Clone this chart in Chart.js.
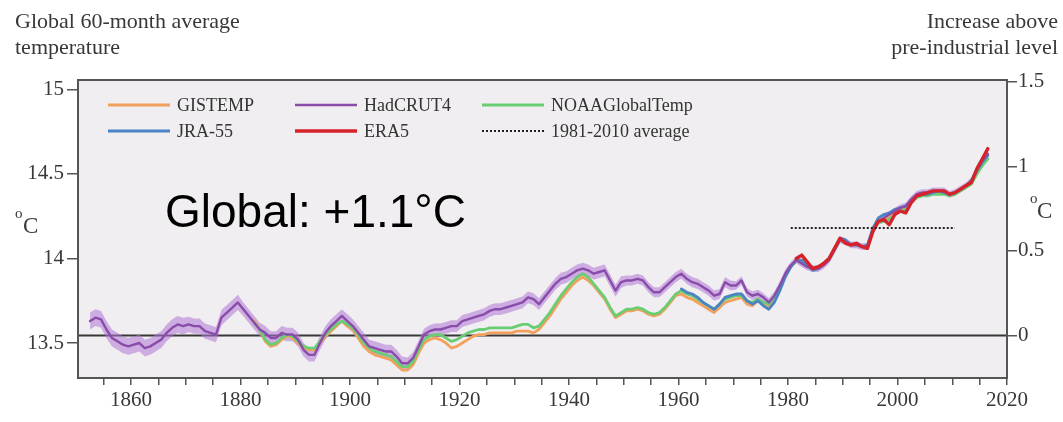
<!DOCTYPE html>
<html>
<head>
<meta charset="utf-8">
<script src="https://cdn.jsdelivr.net/npm/chart.js@4.4.1/dist/chart.umd.min.js"></script>
<style>
  html, body { margin: 0; padding: 0; background: #ffffff; }
  #wrap { position: relative; width: 1063px; height: 422px; }
</style>
</head>
<body>
<div id="wrap"><canvas id="chart" width="1063" height="422"></canvas></div>
<script>
// Centre years of the 60-month running means
const years = [
  1852.5, 1853.5, 1854.5, 1855.5, 1856.5, 1857.5, 1858.5, 1859.5,
  1860.5, 1861.5, 1862.5, 1863.5, 1864.5, 1865.5, 1866.5, 1867.5, 1868.5, 1869.5,
  1870.5, 1871.5, 1872.5, 1873.5, 1874.5, 1875.5, 1876.5, 1877.5, 1878.5, 1879.5,
  1880.5, 1881.5, 1882.5, 1883.5, 1884.5, 1885.5, 1886.5, 1887.5, 1888.5, 1889.5,
  1890.5, 1891.5, 1892.5, 1893.5, 1894.5, 1895.5, 1896.5, 1897.5, 1898.5, 1899.5,
  1900.5, 1901.5, 1902.5, 1903.5, 1904.5, 1905.5, 1906.5, 1907.5, 1908.5, 1909.5,
  1910.5, 1911.5, 1912.5, 1913.5, 1914.5, 1915.5, 1916.5, 1917.5, 1918.5, 1919.5,
  1920.5, 1921.5, 1922.5, 1923.5, 1924.5, 1925.5, 1926.5, 1927.5, 1928.5, 1929.5,
  1930.5, 1931.5, 1932.5, 1933.5, 1934.5, 1935.5, 1936.5, 1937.5, 1938.5, 1939.5,
  1940.5, 1941.5, 1942.5, 1943.5, 1944.5, 1945.5, 1946.5, 1947.5, 1948.5, 1949.5,
  1950.5, 1951.5, 1952.5, 1953.5, 1954.5, 1955.5, 1956.5, 1957.5, 1958.5, 1959.5,
  1960.5, 1961.5, 1962.5, 1963.5, 1964.5, 1965.5, 1966.5, 1967.5, 1968.5, 1969.5,
  1970.5, 1971.5, 1972.5, 1973.5, 1974.5, 1975.5, 1976.5, 1977.5, 1978.5, 1979.5,
  1980.5, 1981.5, 1982.5, 1983.5, 1984.5, 1985.5, 1986.5, 1987.5, 1988.5, 1989.5,
  1990.5, 1991.5, 1992.5, 1993.5, 1994.5, 1995.5, 1996.5, 1997.5, 1998.5, 1999.5,
  2000.5, 2001.5, 2002.5, 2003.5, 2004.5, 2005.5, 2006.5, 2007.5, 2008.5, 2009.5,
  2010.5, 2011.5, 2012.5, 2013.5, 2014.5, 2015.5, 2016.5
];

// HadCRUT4, °C (1852.5 – 2016.5)
const hadcrut4 = [
  13.63, 13.65, 13.64, 13.58, 13.53, 13.51, 13.49, 13.48,
  13.49, 13.50, 13.47, 13.48, 13.50, 13.52, 13.56, 13.59, 13.61, 13.60,
  13.61, 13.60, 13.60, 13.57, 13.56, 13.55, 13.65, 13.68, 13.71, 13.74,
  13.70, 13.66, 13.62, 13.58, 13.56, 13.53, 13.53, 13.56, 13.55, 13.55,
  13.52, 13.46, 13.43, 13.43, 13.50, 13.56, 13.60, 13.63, 13.66, 13.63,
  13.60, 13.56, 13.52, 13.48, 13.47, 13.46, 13.45, 13.45, 13.42, 13.38,
  13.38, 13.41, 13.48, 13.55, 13.57, 13.58, 13.58, 13.59, 13.60, 13.60,
  13.63, 13.64, 13.65, 13.66, 13.67, 13.69, 13.70, 13.70, 13.71, 13.72,
  13.73, 13.74, 13.77, 13.76, 13.73, 13.77, 13.81, 13.85, 13.88, 13.89,
  13.91, 13.93, 13.94, 13.93, 13.91, 13.92, 13.93, 13.87, 13.81, 13.86,
  13.87, 13.87, 13.88, 13.87, 13.83, 13.80, 13.80, 13.83, 13.86, 13.89,
  13.91, 13.88, 13.86, 13.85, 13.83, 13.81, 13.78, 13.79, 13.86, 13.84,
  13.84, 13.87, 13.80, 13.78, 13.79, 13.77, 13.74, 13.78, 13.84, 13.91,
  13.96, 13.99, 13.97, 13.95, 13.94, 13.94, 13.96, 13.99, 14.05, 14.11,
  14.10, 14.08, 14.08, 14.07, 14.07, 14.17, 14.22, 14.24, 14.26, 14.28,
  14.30, 14.31, 14.35, 14.38, 14.39, 14.39, 14.40, 14.40, 14.40, 14.38,
  14.39, 14.41, 14.43, 14.46, 14.53, 14.58, 14.62
];

// HadCRUT4 uncertainty half-width by decade, °C
const spreadDecades = [1850, 1860, 1870, 1880, 1890, 1900, 1910, 1920, 1930, 1940, 1950, 1960, 1970, 1980, 1990, 2000, 2010];
const spreadValues  = [0.05, 0.05, 0.045, 0.04, 0.04, 0.04, 0.035, 0.035, 0.035, 0.035, 0.03, 0.03, 0.025, 0.02, 0.02, 0.02, 0.02];

// GISTEMP, °C (1882.5 – 2016.5)
const gistemp = [
  13.63, 13.58, 13.51, 13.48, 13.49, 13.52, 13.54, 13.53,
  13.50, 13.47, 13.46, 13.46, 13.50, 13.54, 13.57, 13.60, 13.63, 13.60,
  13.58, 13.53, 13.48, 13.45, 13.43, 13.42, 13.41, 13.40, 13.37, 13.34,
  13.34, 13.37, 13.44, 13.50, 13.52, 13.53, 13.52, 13.50, 13.47, 13.48,
  13.50, 13.52, 13.54, 13.55, 13.55, 13.56, 13.56, 13.56, 13.56, 13.56,
  13.57, 13.57, 13.57, 13.56, 13.58, 13.62, 13.66, 13.71, 13.76, 13.80,
  13.84, 13.87, 13.89, 13.87, 13.84, 13.80, 13.76, 13.70, 13.65, 13.67,
  13.69, 13.69, 13.70, 13.69, 13.67, 13.66, 13.67, 13.70, 13.74, 13.78,
  13.79, 13.77, 13.76, 13.74, 13.72, 13.70, 13.68, 13.71, 13.74, 13.75,
  13.76, 13.77, 13.73, 13.72, 13.75, 13.73, 13.72, 13.76, 13.82, 13.90,
  13.95, 13.99, 13.99, 13.96, 13.94, 13.95, 13.97, 14.00, 14.06, 14.12,
  14.10, 14.08, 14.08, 14.07, 14.07, 14.17, 14.22, 14.23, 14.24, 14.27,
  14.29, 14.30, 14.34, 14.37, 14.38, 14.38, 14.39, 14.39, 14.39, 14.38,
  14.39, 14.41, 14.43, 14.46, 14.52, 14.57, 14.61
];

// NOAAGlobalTemp, °C (1882.5 – 2016.5)
const noaaGlobalTemp = [
  13.62, 13.58, 13.52, 13.49, 13.50, 13.53, 13.55, 13.54,
  13.51, 13.48, 13.47, 13.47, 13.51, 13.55, 13.58, 13.61, 13.63, 13.61,
  13.59, 13.55, 13.50, 13.47, 13.45, 13.44, 13.43, 13.42, 13.39, 13.36,
  13.36, 13.39, 13.46, 13.52, 13.54, 13.55, 13.55, 13.53, 13.51, 13.52,
  13.54, 13.56, 13.57, 13.58, 13.58, 13.59, 13.59, 13.59, 13.59, 13.59,
  13.60, 13.61, 13.61, 13.59, 13.60, 13.64, 13.68, 13.73, 13.78, 13.82,
  13.86, 13.89, 13.91, 13.89, 13.85, 13.81, 13.77, 13.71, 13.66, 13.68,
  13.70, 13.70, 13.71, 13.70, 13.68, 13.67, 13.68, 13.71, 13.75, 13.79,
  13.81, 13.79, 13.78, 13.76, 13.74, 13.72, 13.70, 13.73, 13.76, 13.77,
  13.78, 13.78, 13.75, 13.74, 13.76, 13.74, 13.73, 13.77, 13.83, 13.90,
  13.95, 13.99, 13.98, 13.96, 13.94, 13.95, 13.97, 14.00, 14.05, 14.11,
  14.10, 14.08, 14.08, 14.07, 14.07, 14.16, 14.21, 14.22, 14.23, 14.26,
  14.28, 14.29, 14.33, 14.36, 14.37, 14.37, 14.38, 14.38, 14.38, 14.37,
  14.38, 14.40, 14.42, 14.44, 14.50, 14.55, 14.59
];

// JRA-55, °C (1960.5 – 2016.5)
const jra55 = [
  13.82, 13.80, 13.79, 13.77, 13.74, 13.72, 13.70, 13.73, 13.77, 13.78,
  13.79, 13.79, 13.75, 13.73, 13.75, 13.72, 13.70, 13.74, 13.81, 13.89,
  13.95, 13.99, 13.99, 13.96, 13.93, 13.94, 13.97, 14.00, 14.06, 14.12,
  14.11, 14.08, 14.08, 14.07, 14.08, 14.18, 14.24, 14.26, 14.27, 14.29,
  14.30, 14.31, 14.34, 14.37, 14.38, 14.38, 14.39, 14.40, 14.39, 14.38,
  14.39, 14.41, 14.43, 14.46, 14.52, 14.57, 14.61
];

// ERA5, °C (1981.5 – 2016.5)
const era5 = [
  14.00, 14.02, 13.98, 13.94, 13.95, 13.97, 14.00, 14.06, 14.12,
  14.09, 14.08, 14.09, 14.07, 14.06, 14.16, 14.22, 14.23, 14.20, 14.26,
  14.28, 14.27, 14.33, 14.37, 14.38, 14.39, 14.40, 14.40, 14.40, 14.38,
  14.39, 14.41, 14.43, 14.45, 14.53, 14.59, 14.65
];

// 1981–2010 average
const avgYears  = [1980.5, 2010.5];
const avgValues = [14.18, 14.18];

// Pre-industrial reference level, °C
const PRE_INDUSTRIAL = 13.545;

// Axis ticks
const leftTicks  = [13.5, 14, 14.5, 15];
const rightTicks = [0, 0.5, 1, 1.5];
const xTickYears = [1855, 1860, 1865, 1870, 1875, 1880, 1885, 1890, 1895, 1900, 1905, 1910, 1915,
                    1920, 1925, 1930, 1935, 1940, 1945, 1950, 1955, 1960, 1965, 1970, 1975, 1980,
                    1985, 1990, 1995, 2000, 2005, 2010, 2015, 2020];
const xTickLabels = [1860, 1880, 1900, 1920, 1940, 1960, 1980, 2000, 2020];

const Y_MIN = 13.293, Y_MAX = 15.056;
const X_MIN = 1850.3, X_MAX = 2020;

const gistempYears = years.slice(years.indexOf(1882.5));
const jraYears     = years.slice(years.indexOf(1960.5));
const era5Years    = years.slice(years.indexOf(1981.5));

function pts(xs, ys) { return xs.map((x, i) => ({ x: x, y: ys[i] })); }
function spreadFor(year) {
  let s = spreadValues[0];
  for (let i = 0; i < spreadDecades.length; i++) if (year >= spreadDecades[i]) s = spreadValues[i];
  return s;
}
const hadUpper = hadcrut4.map((v, i) => v + spreadFor(years[i]));
const hadLower = hadcrut4.map((v, i) => v - spreadFor(years[i]));

const SERIF = "'Liberation Serif', 'Times New Roman', serif";
const TEXT = '#383838';

const lineBase = { pointRadius: 0, pointHitRadius: 0, tension: 0, fill: false,
                   borderJoinStyle: 'round', borderCapStyle: 'round' };

const datasets = [
  Object.assign({}, lineBase, { label: 'HadCRUT4 band top', data: pts(years, hadUpper),
    borderWidth: 0, borderColor: 'rgba(0,0,0,0)', order: 10 }),
  Object.assign({}, lineBase, { label: 'HadCRUT4 band bottom', data: pts(years, hadLower),
    borderWidth: 0, borderColor: 'rgba(0,0,0,0)', fill: '-1',
    backgroundColor: 'rgba(174,118,214,0.55)', order: 9 }),
  Object.assign({}, lineBase, { label: 'GISTEMP', data: pts(gistempYears, gistemp),
    borderColor: '#f2a05c', borderWidth: 2.8, order: 5 }),
  Object.assign({}, lineBase, { label: 'NOAAGlobalTemp', data: pts(gistempYears, noaaGlobalTemp),
    borderColor: '#6acd74', borderWidth: 2.8, order: 4 }),
  Object.assign({}, lineBase, { label: 'JRA-55', data: pts(jraYears, jra55),
    borderColor: '#4a84c4', borderWidth: 2.8, order: 3 }),
  Object.assign({}, lineBase, { label: 'HadCRUT4', data: pts(years, hadcrut4),
    borderColor: '#8a4cab', borderWidth: 2.4, order: 2 }),
  Object.assign({}, lineBase, { label: 'ERA5', data: pts(era5Years, era5),
    borderColor: '#d6222b', borderWidth: 3.4, order: 1 }),
  Object.assign({}, lineBase, { label: '1981-2010 average', data: pts(avgYears, avgValues),
    borderColor: '#222222', borderWidth: 2, borderDash: [2, 2], borderCapStyle: 'butt', order: 0 })
];

// Plot background, pre-industrial line, frame, legend and titles
const decorations = {
  id: 'decorations',
  beforeDraw(chart) {
    const a = chart.chartArea, ctx = chart.ctx;
    ctx.save();
    ctx.fillStyle = '#f0eef0';
    ctx.fillRect(a.left, a.top, a.right - a.left, a.bottom - a.top);
    ctx.restore();
  },
  beforeDatasetsDraw(chart) {
    const a = chart.chartArea, ctx = chart.ctx;
    const y = Math.round(chart.scales.y2.getPixelForValue(0)) + 0.5;
    ctx.save();
    ctx.strokeStyle = '#383838';
    ctx.lineWidth = 2;
    ctx.beginPath();
    ctx.moveTo(a.left, y);
    ctx.lineTo(a.right, y);
    ctx.stroke();
    ctx.restore();
  },
  afterDraw(chart) {
    const a = chart.chartArea, ctx = chart.ctx;
    ctx.save();
    // frame
    ctx.strokeStyle = '#555555';
    ctx.lineWidth = 2;
    ctx.strokeRect(a.left, a.top, a.right - a.left, a.bottom - a.top);

    // legend
    const order = ['GISTEMP', 'HadCRUT4', 'NOAAGlobalTemp', 'JRA-55', 'ERA5', '1981-2010 average'];
    const colX = [108, 295, 482];
    const rowY = [105, 131];
    ctx.font = '18px ' + SERIF;
    ctx.textBaseline = 'middle';
    ctx.textAlign = 'left';
    order.forEach((name, i) => {
      const ds = chart.data.datasets.find(d => d.label === name);
      const x = colX[i % 3], y = rowY[Math.floor(i / 3)];
      ctx.strokeStyle = ds.borderColor;
      ctx.lineWidth = ds.borderWidth;
      ctx.setLineDash(ds.borderDash || []);
      ctx.lineCap = 'butt';
      ctx.beginPath();
      ctx.moveTo(x, y);
      ctx.lineTo(x + 62, y);
      ctx.stroke();
      ctx.setLineDash([]);
      ctx.fillStyle = '#333333';
      ctx.fillText(name, x + 69, y + 1);
    });

    // headline
    ctx.font = "46px 'Liberation Sans', Arial, sans-serif";
    ctx.fillStyle = '#000000';
    ctx.textBaseline = 'alphabetic';
    ctx.fillText('Global: +1.1°C', 165, 227);

    // axis titles
    ctx.fillStyle = TEXT;
    ctx.font = '22px ' + SERIF;
    ctx.textAlign = 'left';
    ctx.fillText('Global 60-month average', 15, 28);
    ctx.fillText('temperature', 15, 54);
    ctx.textAlign = 'right';
    ctx.fillText('Increase above', 1058, 28);
    ctx.fillText('pre-industrial level', 1058, 54);

    // unit labels
    ctx.textAlign = 'left';
    ctx.font = '15px ' + SERIF;
    ctx.fillText('o', 15, 218);
    ctx.fillText('o', 1030, 203);
    ctx.font = '23px ' + SERIF;
    ctx.fillText('C', 23, 233);
    ctx.fillText('C', 1037, 218);
    ctx.restore();
  }
};

const tickFont = { family: SERIF, size: 21 };

new Chart(document.getElementById('chart'), {
  type: 'line',
  data: { datasets: datasets },
  options: {
    responsive: false,
    animation: false,
    devicePixelRatio: 1,
    layout: { padding: { top: 80, left: 0, right: 0, bottom: 0 } },
    plugins: { legend: { display: false }, tooltip: { enabled: false } },
    scales: {
      x: {
        type: 'linear', position: 'bottom', min: X_MIN, max: X_MAX,
        afterFit(s) { s.height = 44; },
        afterBuildTicks(s) { s.ticks = xTickYears.map(v => ({ value: v })); },
        grid: { drawOnChartArea: false, drawTicks: true, tickLength: 7, color: '#555555', lineWidth: 1.5 },
        border: { display: false },
        ticks: {
          autoSkip: false, maxRotation: 0, padding: 3, font: tickFont, color: TEXT,
          callback: v => (xTickLabels.includes(v) ? String(v) : '')
        }
      },
      y: {
        type: 'linear', position: 'left', min: Y_MIN, max: Y_MAX,
        afterFit(s) { s.width = 78; },
        afterBuildTicks(s) { s.ticks = leftTicks.map(v => ({ value: v })); },
        grid: { drawOnChartArea: false, drawTicks: true, tickLength: 11, color: '#555555', lineWidth: 1.5 },
        border: { display: false },
        ticks: { padding: 3, font: tickFont, color: TEXT, callback: v => String(v) }
      },
      y2: {
        type: 'linear', position: 'right',
        min: Y_MIN - PRE_INDUSTRIAL, max: Y_MAX - PRE_INDUSTRIAL,
        afterFit(s) { s.width = 56; },
        afterBuildTicks(s) { s.ticks = rightTicks.map(v => ({ value: v })); },
        grid: { drawOnChartArea: false, drawTicks: true, tickLength: 10, color: '#555555', lineWidth: 1.5 },
        border: { display: false },
        ticks: { padding: 1, font: tickFont, color: TEXT, callback: v => String(v) }
      }
    }
  },
  plugins: [decorations]
});
</script>
</body>
</html>
